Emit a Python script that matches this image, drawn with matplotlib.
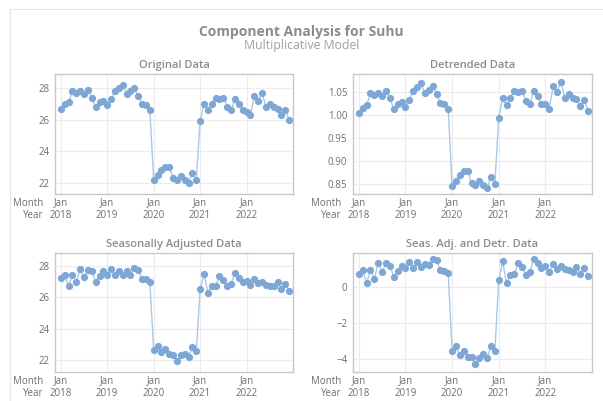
import matplotlib.pyplot as plt
from matplotlib.transforms import blended_transform_factory
from matplotlib.ticker import FormatStrFormatter

# Data komponen suhu bulanan Jan 2018 - Des 2022
original = [26.7, 27.0, 27.1, 27.8, 27.7, 27.8, 27.6, 27.9, 27.4, 26.8, 27.1, 27.2,
            26.95, 27.3, 27.8, 28.0, 28.2, 27.6, 27.8, 28.0, 27.5, 27.0, 26.9, 26.6,
            22.2, 22.5, 22.8, 23.0, 23.0, 22.3, 22.2, 22.4, 22.2, 22.0, 22.6, 22.2,
            25.9, 27.0, 26.6, 27.0, 27.4, 27.3, 27.4, 26.8, 26.6, 27.3, 27.0, 26.6,
            26.5, 26.3, 27.5, 27.2, 27.7, 26.8, 27.0, 26.8, 26.7, 26.3, 26.6, 26.0]
detrended = [1.004, 1.015, 1.020, 1.047, 1.043, 1.046, 1.040, 1.052, 1.035, 1.012, 1.024, 1.027,
             1.017, 1.032, 1.052, 1.060, 1.068, 1.046, 1.053, 1.063, 1.044, 1.025, 1.023, 1.012,
             0.845, 0.857, 0.870, 0.877, 0.877, 0.852, 0.848, 0.856, 0.848, 0.842, 0.864, 0.850,
             0.993, 1.035, 1.021, 1.036, 1.052, 1.049, 1.052, 1.030, 1.023, 1.051, 1.040, 1.024,
             1.022, 1.013, 1.061, 1.050, 1.071, 1.036, 1.044, 1.037, 1.034, 1.019, 1.031, 1.008]
seas_adj = [27.25, 27.45, 26.7, 27.45, 27.0, 27.8, 27.3, 27.75, 27.65, 27.0, 27.35, 27.65,
            27.45, 27.8, 27.4, 27.7, 27.45, 27.65, 27.45, 27.85, 27.75, 27.2, 27.15, 27.0,
            22.65, 22.9, 22.5, 22.7, 22.4, 22.3, 21.95, 22.3, 22.4, 22.2, 22.8, 22.55,
            26.5, 27.5, 26.3, 26.7, 26.7, 27.35, 27.1, 26.7, 26.85, 27.55, 27.25, 27.0,
            27.05, 26.8, 27.15, 26.9, 27.0, 26.8, 26.7, 26.7, 26.95, 26.55, 26.85, 26.4]
seas_detr = [0.7, 0.9, 0.2, 0.9, 0.45, 1.3, 0.8, 1.3, 1.15, 0.55, 0.85, 1.15,
             1.05, 1.35, 1.05, 1.35, 1.1, 1.25, 1.2, 1.55, 1.45, 0.9, 0.85, 0.75,
             -3.55, -3.3, -3.8, -3.55, -3.9, -3.9, -4.3, -3.95, -3.75, -3.95, -3.3, -3.55,
             0.35, 1.4, 0.2, 0.65, 0.7, 1.3, 1.1, 0.65, 0.8, 1.55, 1.3, 1.05,
             1.15, 0.8, 1.25, 1.0, 1.15, 1.0, 0.9, 0.8, 1.1, 0.7, 1.05, 0.6]
years = ["2018", "2019", "2020", "2021", "2022"]

months = list(range(len(original)))
grey = "#8c8c8c"
text_grey = "#6e6e6e"

plt.rcParams["font.family"] = ["Open Sans", "DejaVu Sans"]

fig = plt.figure(figsize=(6.03, 4.01), dpi=100)
W, H = 603, 401

def add_panel(left, top, right, bottom, data, title, ylim, yticks, fmt=None):
    ax = fig.add_axes([left / W, 1 - bottom / H, (right - left) / W, (bottom - top) / H])
    ax.plot(months, data, color="#a9c8e8", lw=1.0, zorder=2)
    ax.plot(months, data, "o", color="#7ea7d6", ms=4.2, zorder=3)
    ax.set_xlim(-1.5, 60)
    ax.set_ylim(*ylim)
    ax.set_yticks(yticks)
    if fmt:
        ax.yaxis.set_major_formatter(FormatStrFormatter(fmt))
    ticks = [0, 12, 24, 36, 48]
    ax.set_xticks(ticks)
    ax.set_xticklabels([])
    ax.tick_params(length=0, labelsize=7, colors=text_grey, pad=4)
    ax.grid(True, color="#ececec", lw=0.8, zorder=0)
    for s in ax.spines.values():
        s.set_color("#c8c8c8")
        s.set_linewidth(1.0)
    ax.set_title(title, fontsize=8, color=grey, fontweight="semibold", pad=4)

    # label bulan/tahun di bawah sumbu x
    y_month = 1 - (bottom + 9) / H
    y_year = 1 - (bottom + 21) / H
    tr = blended_transform_factory(ax.transData, fig.transFigure)
    for t, yr in zip(ticks, years):
        ax.text(t, y_month, "Jan", transform=tr, ha="center", va="center",
                fontsize=7, color=text_grey)
        ax.text(t, y_year, yr, transform=tr, ha="center", va="center",
                fontsize=7, color=text_grey)
    fig.text((left - 12) / W, y_month, "Month", ha="right", va="center",
             fontsize=7, color=text_grey)
    fig.text((left - 12) / W, y_year, "Year", ha="right", va="center",
             fontsize=7, color=text_grey)
    return ax

add_panel(55, 74, 293, 194, original, "Original Data", (21.28, 28.9), [22, 24, 26, 28])
add_panel(353, 74, 592, 194, detrended, "Detrended Data", (0.828, 1.088),
          [0.85, 0.90, 0.95, 1.00, 1.05], "%.2f")
add_panel(55, 253, 293, 372, seas_adj, "Seasonally Adjusted Data", (21.23, 28.83), [22, 24, 26, 28])
add_panel(353, 253, 592, 372, seas_detr, "Seas. Adj. and Detr. Data", (-4.72, 1.86), [-4, -2, 0])

fig.text(0.5, 1 - 32 / H, "Component Analysis for Suhu", ha="center", va="center",
         fontsize=10, color=grey, fontweight="bold")
fig.text(0.5, 1 - 46 / H, "Multiplicative Model", ha="center", va="center",
         fontsize=8.8, color="#a0a0a0")
# bingkai tipis di kiri atas
fig.add_artist(plt.Line2D([10 / W, 1], [1 - 9 / H, 1 - 9 / H], color="#e6e6e6", lw=0.8))
fig.add_artist(plt.Line2D([10 / W, 10 / W], [1 - 9 / H, 0], color="#e6e6e6", lw=0.8))

fig.savefig("out.png", dpi=100)
